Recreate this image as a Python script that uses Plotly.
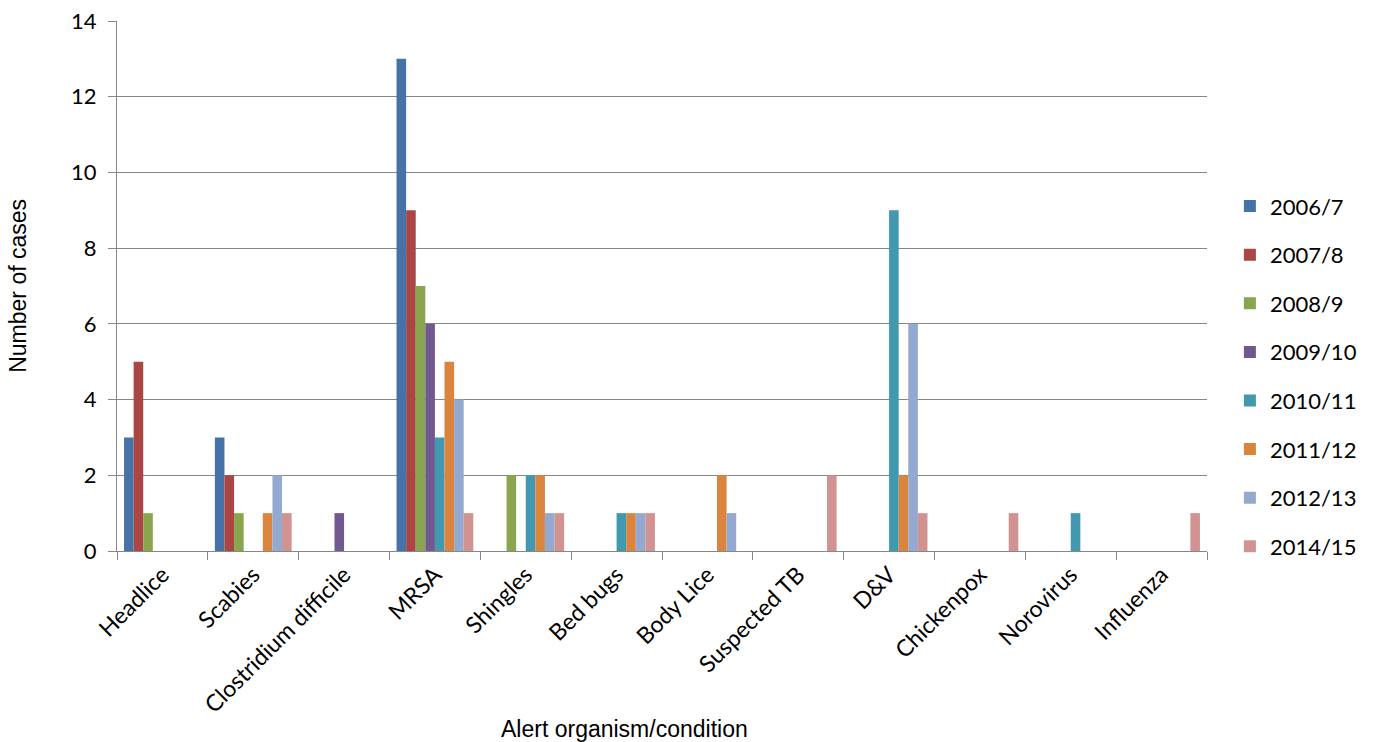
import plotly.graph_objects as go

categories = ["Headlice", "Scabies", "Clostridium difficile", "MRSA", "Shingles",
              "Bed bugs", "Body Lice", "Suspected TB", "D&V", "Chickenpox",
              "Norovirus", "Influenza"]

y2006_7 = [3, 3, 0, 13, 0, 0, 0, 0, 0, 0, 0, 0]
y2007_8 = [5, 2, 0, 9, 0, 0, 0, 0, 0, 0, 0, 0]
y2008_9 = [1, 1, 0, 7, 2, 0, 0, 0, 0, 0, 0, 0]
y2009_10 = [0, 0, 1, 6, 0, 0, 0, 0, 0, 0, 0, 0]
y2010_11 = [0, 0, 0, 3, 2, 1, 0, 0, 9, 0, 1, 0]
y2011_12 = [0, 1, 0, 5, 2, 1, 2, 0, 2, 0, 0, 0]
y2012_13 = [0, 2, 0, 4, 1, 1, 1, 0, 6, 0, 0, 0]
y2014_15 = [0, 1, 0, 1, 1, 1, 0, 2, 1, 1, 0, 1]

series_names = ["2006/7", "2007/8", "2008/9", "2009/10", "2010/11", "2011/12", "2012/13", "2014/15"]
series_values = [y2006_7, y2007_8, y2008_9, y2009_10, y2010_11, y2011_12, y2012_13, y2014_15]
colors = ["#4572A7", "#AA4643", "#89A54E", "#71588F", "#4198AF", "#DB843D", "#93A9CF", "#D19392"]

fig = go.Figure()
for name, vals, col in zip(series_names, series_values, colors):
    fig.add_trace(go.Bar(
        x=categories, y=vals, name=name, legendgroup=name,
        marker=dict(color=col, line=dict(width=0)),
    ))

grid_col = "#878787"
label_font = "Lato, Open Sans, sans-serif"
title_font = "Liberation Sans, Arial, sans-serif"

fig.update_layout(
    width=1373, height=742,
    margin=dict(l=117, r=166, t=21, b=191, autoexpand=False),
    paper_bgcolor="white", plot_bgcolor="white",
    barmode="group", bargap=0.155, bargroupgap=0,
    font=dict(family=label_font, color="black"),
    showlegend=True,
    legend=dict(
        x=1.021, xanchor="left", y=0.69, yanchor="top",
        font=dict(family=label_font, size=22, color="black"),
        tracegroupgap=17, itemwidth=30, bgcolor="rgba(0,0,0,0)",
    ),
    xaxis=dict(
        type="category", tickangle=-45,
        tickfont=dict(family=label_font, size=23),
        ticks="outside", tickson="boundaries", ticklen=8, tickcolor=grid_col, tickwidth=1.3,
        showline=True, linecolor=grid_col, linewidth=1.3,
        showgrid=False, zeroline=False,
    ),
    yaxis=dict(
        range=[0, 14], dtick=2,
        tickfont=dict(family=label_font, size=22),
        ticks="outside", ticklen=8, tickcolor=grid_col, tickwidth=1.3,
        ticklabelstandoff=7,
        showline=True, linecolor=grid_col, linewidth=1.3,
        showgrid=True, gridcolor=grid_col, gridwidth=1.3,
        zeroline=False,
    ),
    annotations=[
        dict(text="Number of cases", xref="paper", yref="paper", x=-0.091, y=0.5,
             xanchor="center", yanchor="middle", textangle=-90, showarrow=False,
             font=dict(family=title_font, size=23)),
        dict(text="Alert organism/condition", xref="paper", yref="paper", x=0.466, y=-0.335,
             xanchor="center", yanchor="middle", showarrow=False,
             font=dict(family=title_font, size=23)),
    ],
)

fig.write_html("out.html")
